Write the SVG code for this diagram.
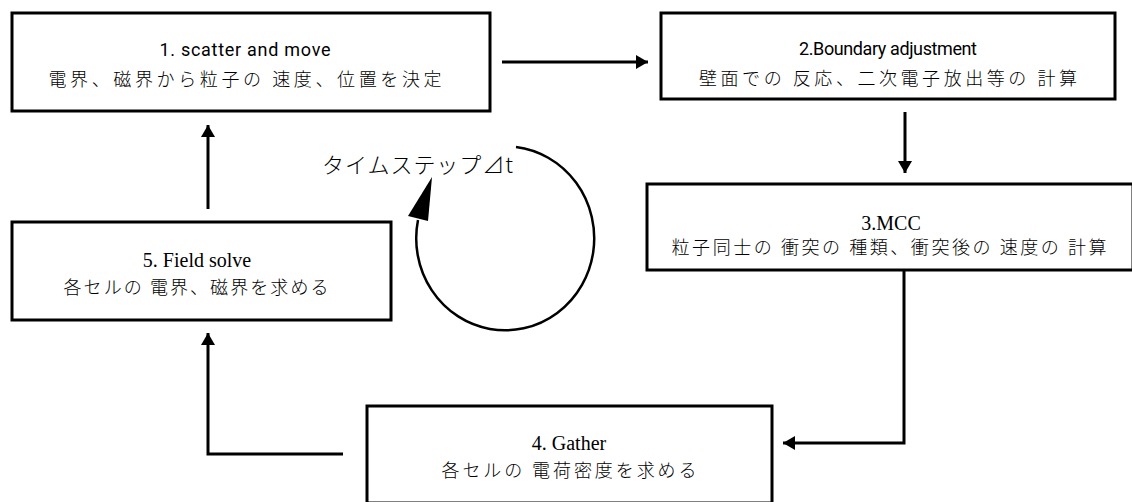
<svg xmlns="http://www.w3.org/2000/svg" width="1132" height="502" viewBox="0 0 1132 502">
<style>
.box{fill:#fff;stroke:#000;stroke-width:3}
.con{fill:none;stroke:#000;stroke-width:3}
.sans{font-family:Roboto,"Liberation Sans","Noto Sans CJK JP",sans-serif;font-size:18px;fill:#000}
.serif{font-family:"Liberation Serif","Noto Sans CJK JP",serif;font-size:20px;fill:#000}
.jp{font-family:"Noto Sans CJK JP",sans-serif;font-size:18px;font-weight:300;fill:#000}
.lbl{font-family:"Noto Sans CJK JP",sans-serif;font-size:22px;font-weight:300;fill:#000}
</style>
<defs>
<marker id="ah" markerUnits="userSpaceOnUse" markerWidth="12" markerHeight="14" refX="12" refY="7" orient="auto">
<path d="M0,0 L12,7 L0,14 z" fill="#000"/>
</marker>
</defs>
<rect width="1132" height="502" fill="#fff"/>
<g id="connectors">
<path class="con" d="M502 62 H648" marker-end="url(#ah)"/>
<path class="con" d="M905 112 V173" marker-end="url(#ah)"/>
<path class="con" d="M904 270 V443 H783" marker-end="url(#ah)"/>
<path class="con" d="M343 454 H208 V333" marker-end="url(#ah)"/>
<path class="con" d="M208 209 V125" marker-end="url(#ah)"/>
<path d="M516 147 A89 92 0 1 1 418 220" fill="none" stroke="#000" stroke-width="2.5"/>
<polygon points="408,216 428,221 432,177" fill="#000"/>
</g>
<g id="label-timestep">
<text class="lbl" x="322" y="173" textLength="191" lengthAdjust="spacing">タイムステップ⊿t</text>
</g>
<g id="node1">
<rect class="box" x="12" y="13" width="478" height="98"/>
<text class="sans" x="245" y="56" text-anchor="middle" textLength="171" lengthAdjust="spacing">1. scatter and move</text>
<text class="jp" x="245" y="86" text-anchor="middle" textLength="393" lengthAdjust="spacing">電界、磁界から粒子の 速度、位置を決定</text>
</g>
<g id="node2">
<rect class="box" x="661" y="13" width="454" height="86"/>
<text class="sans" x="888" y="55" text-anchor="middle" textLength="178" lengthAdjust="spacing">2.Boundary adjustment</text>
<text class="jp" x="888" y="85" text-anchor="middle" textLength="378" lengthAdjust="spacing">壁面での 反応、二次電子放出等の 計算</text>
</g>
<g id="node3">
<rect class="box" x="647" y="184" width="486" height="86"/>
<text class="serif" x="891" y="230" text-anchor="middle" font-size="21">3.MCC</text>
<text class="jp" x="889" y="254" text-anchor="middle" textLength="435" lengthAdjust="spacing">粒子同士の 衝突の 種類、衝突後の 速度の 計算</text>
</g>
<g id="node4">
<rect class="box" x="367" y="406" width="405" height="97"/>
<text class="serif" x="569" y="450" text-anchor="middle">4. Gather</text>
<text class="jp" x="569" y="477" text-anchor="middle" textLength="255" lengthAdjust="spacing">各セルの 電荷密度を求める</text>
</g>
<g id="node5">
<rect class="box" x="12" y="222" width="379" height="98"/>
<text class="serif" x="197" y="267" text-anchor="middle">5. Field solve</text>
<text class="jp" x="196" y="294" text-anchor="middle" textLength="265" lengthAdjust="spacing">各セルの 電界、磁界を求める</text>
</g>
</svg>
